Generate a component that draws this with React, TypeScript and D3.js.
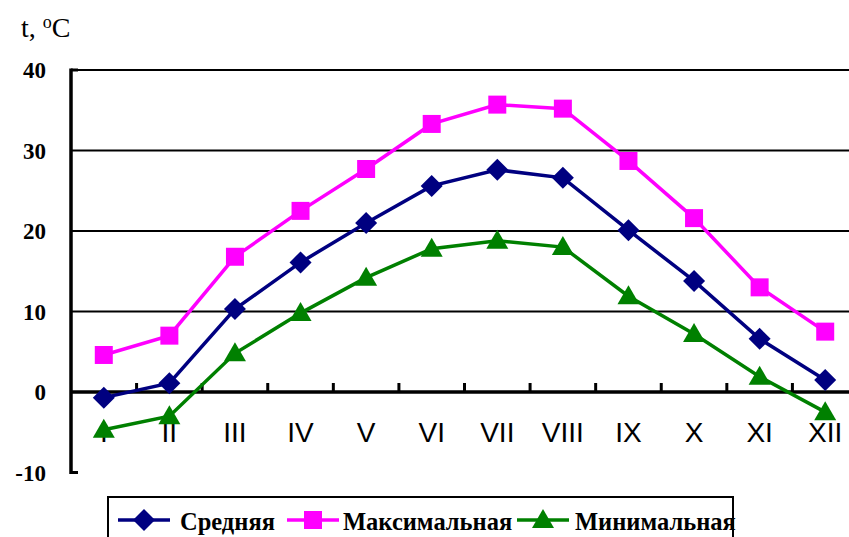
import React, { useEffect, useRef } from 'react';
import * as d3 from 'd3';

// Months (Roman numerals) and temperatures, degrees C
const months = ['I', 'II', 'III', 'IV', 'V', 'VI', 'VII', 'VIII', 'IX', 'X', 'XI', 'XII'];
const avgTemp = [-0.7, 1.1, 10.3, 16.1, 21.0, 25.6, 27.6, 26.6, 20.1, 13.8, 6.6, 1.5];
const maxTemp = [4.6, 7.0, 16.8, 22.5, 27.7, 33.3, 35.7, 35.2, 28.7, 21.6, 13.0, 7.5];
const minTemp = [-4.7, -3.0, 4.8, 9.8, 14.2, 17.8, 18.8, 18.0, 11.9, 7.2, 1.9, -2.5];
const yTicks = [-10, 0, 10, 20, 30, 40];
const seriesNames = ['Средняя', 'Максимальная', 'Минимальная'];

const App = () => {
  const chartRef = useRef<SVGSVGElement | null>(null);

  useEffect(() => {
    const width = 849;
    const height = 537;
    const left = 71;
    const plotW = 787;
    const top = 70;
    const bottom = 472.5;

    const svg = d3.select(chartRef.current);
    svg.selectAll('*').remove();

    const x = d3.scaleBand<string>().domain(months).range([left, left + plotW]).padding(0);
    const y = d3.scaleLinear().domain([-10, 40]).range([bottom, top]);
    const cx = (i: number) => (x(months[i]) as number) + x.bandwidth() / 2;

    // gridlines
    svg.append('g')
      .selectAll('line')
      .data(yTicks.filter(d => d > 0))
      .enter()
      .append('line')
      .attr('x1', left)
      .attr('x2', width)
      .attr('y1', d => y(d))
      .attr('y2', d => y(d))
      .attr('stroke', '#000')
      .attr('stroke-width', 2);

    // small stub at -10
    svg.append('line')
      .attr('x1', left).attr('x2', left + 7)
      .attr('y1', y(-10)).attr('y2', y(-10))
      .attr('stroke', '#000').attr('stroke-width', 3);

    // zero axis
    svg.append('line')
      .attr('x1', left).attr('x2', width)
      .attr('y1', y(0)).attr('y2', y(0))
      .attr('stroke', '#000').attr('stroke-width', 3.5);

    // category ticks on zero axis (pointing up)
    svg.append('g')
      .selectAll('line')
      .data(months.slice(1))
      .enter()
      .append('line')
      .attr('x1', d => x(d) as number)
      .attr('x2', d => x(d) as number)
      .attr('y1', y(0))
      .attr('y2', y(0) - 9)
      .attr('stroke', '#000')
      .attr('stroke-width', 3);

    // y axis
    svg.append('line')
      .attr('x1', left).attr('x2', left)
      .attr('y1', top - 1.5).attr('y2', bottom + 1.5)
      .attr('stroke', '#000').attr('stroke-width', 3.5);
    svg.append('line')
      .attr('x1', left).attr('x2', left + 7)
      .attr('y1', top).attr('y2', top)
      .attr('stroke', '#000').attr('stroke-width', 3);

    // y tick labels
    svg.append('g')
      .selectAll('text')
      .data(yTicks)
      .enter()
      .append('text')
      .attr('x', 46)
      .attr('y', d => y(d) + 8)
      .attr('text-anchor', 'end')
      .attr('font-family', '"Liberation Serif", "Times New Roman", serif')
      .attr('font-weight', 'bold')
      .attr('font-size', 23)
      .text(d => d);

    // category labels
    svg.append('g')
      .selectAll('text')
      .data(months)
      .enter()
      .append('text')
      .attr('x', (_, i) => cx(i))
      .attr('y', 442)
      .attr('text-anchor', 'middle')
      .attr('font-family', '"Liberation Sans", Arial, sans-serif')
      .attr('font-size', 28)
      .text(d => d);

    // axis title
    const title = svg.append('text')
      .attr('x', 21)
      .attr('y', 37)
      .attr('font-family', '"Liberation Serif", "Times New Roman", serif')
      .attr('font-size', 28);
    title.append('tspan').text('t, ');
    title.append('tspan').attr('font-size', 18).attr('dy', -9).text('o');
    title.append('tspan').attr('dy', 9).text('C');

    const line = d3.line<number>().x((_, i) => cx(i)).y(d => y(d));

    const series = [
      { name: seriesNames[0], data: avgTemp, color: '#000080', marker: 'diamond' },
      { name: seriesNames[1], data: maxTemp, color: '#FF00FF', marker: 'square' },
      { name: seriesNames[2], data: minTemp, color: '#008000', marker: 'triangle' },
    ];

    const markerPath = (m: string) => {
      if (m === 'diamond') return 'M0,-11L11,0L0,11L-11,0Z';
      if (m === 'square') return 'M-9,-9H9V9H-9Z';
      return 'M0,-11L11,8L-11,8Z';
    };

    series.forEach(s => {
      svg.append('path')
        .datum(s.data)
        .attr('d', line)
        .attr('fill', 'none')
        .attr('stroke', s.color)
        .attr('stroke-width', 3.5);
      svg.append('g')
        .selectAll('path')
        .data(s.data)
        .enter()
        .append('path')
        .attr('transform', (d, i) => `translate(${cx(i)},${y(d)})`)
        .attr('d', markerPath(s.marker))
        .attr('fill', s.color);
    });

    // legend
    svg.append('rect')
      .attr('x', 108)
      .attr('y', 497)
      .attr('width', 625)
      .attr('height', 60)
      .attr('fill', 'none')
      .attr('stroke', '#000')
      .attr('stroke-width', 2);

    const legendLineX = [118, 287, 517];
    const legendTextX = [180, 343, 575];
    const legendY = 520;
    series.forEach((s, i) => {
      const g = svg.append('g');
      g.append('line')
        .attr('x1', legendLineX[i]).attr('x2', legendLineX[i] + 52)
        .attr('y1', legendY).attr('y2', legendY)
        .attr('stroke', s.color)
        .attr('stroke-width', 3.5);
      g.append('path')
        .attr('transform', `translate(${legendLineX[i] + 26},${legendY})`)
        .attr('d', markerPath(s.marker))
        .attr('fill', s.color);
      g.append('text')
        .attr('x', legendTextX[i])
        .attr('y', legendY + 10)
        .attr('font-family', '"Liberation Serif", "Times New Roman", serif')
        .attr('font-weight', 'bold')
        .attr('font-size', 24.5)
        .text(s.name);
    });

    svg.attr('width', width).attr('height', height);
  }, []);

  return (
    <svg
      ref={chartRef}
      style={{ position: 'absolute', left: 0, top: 0, display: 'block', background: '#fff' }}
    />
  );
};

export default App;
